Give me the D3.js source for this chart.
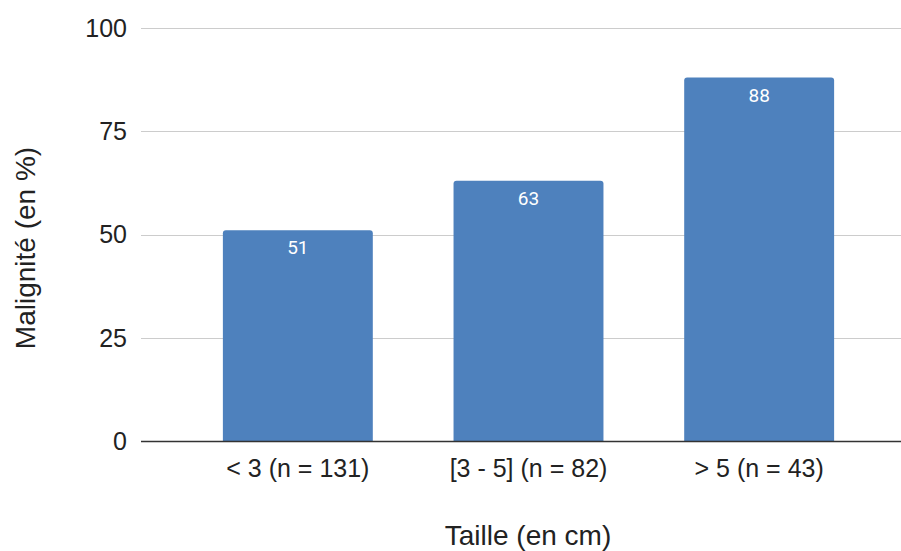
<!DOCTYPE html>
<html><head><meta charset="utf-8">
<script src="https://cdn.jsdelivr.net/npm/d3@7"></script>
<style>body{margin:0;background:#fff}svg{display:block}</style>
</head><body>
<svg id="c" width="901" height="551"></svg>
<script>
const categories = ["< 3 (n = 131)", "[3 - 5] (n = 82)", "> 5 (n = 43)"];
const values = [51, 63, 88];
const yTicks = [0, 25, 50, 75, 100];
const yTitle = "Malignité (en %)";
const xTitle = "Taille (en cm)";

(function () {
const svg = d3.select("#c");
const pL = 141, pR = 916, pT = 28, pB = 441;
const x = d3.scaleBand().domain(categories).range([pL, pR]).paddingInner(0.35).paddingOuter(0.355);
const y = d3.scaleLinear().domain([0, 100]).range([pB, pT]);
const font = "Liberation Sans, Arial, sans-serif";

// gridlines
svg.append("g").selectAll("line").data(yTicks.filter(d => d > 0)).join("line")
  .attr("x1", pL).attr("x2", 901)
  .attr("y1", d => Math.round(y(d)) + 0.5).attr("y2", d => Math.round(y(d)) + 0.5)
  .attr("stroke", "#cccccc").attr("stroke-width", 1);

// y tick labels
svg.append("g").selectAll("text").data(yTicks).join("text")
  .attr("x", 127).attr("y", d => y(d)).attr("dy", "0.35em")
  .attr("text-anchor", "end")
  .attr("font-family", font).attr("font-size", 25)
  .attr("fill", "#222").text(d => d);

// bars with rounded top corners
const r = 3;
svg.append("g").selectAll("path").data(values).join("path")
  .attr("d", (d, i) => {
    const x0 = x(categories[i]), w = x.bandwidth(), y0 = y(d), y1 = y(0);
    return `M${x0},${y1}V${y0 + r}Q${x0},${y0} ${x0 + r},${y0}H${x0 + w - r}Q${x0 + w},${y0} ${x0 + w},${y0 + r}V${y1}Z`;
  })
  .attr("fill", "#4e81bd");

// value labels
svg.append("g").selectAll("text").data(values).join("text")
  .attr("x", (d, i) => x(categories[i]) + x.bandwidth() / 2)
  .attr("y", d => y(d) + 24)
  .attr("text-anchor", "middle")
  .attr("font-family", "Roboto, sans-serif").attr("font-size", 19)
  .attr("fill", "#ffffff").text(d => d);

// baseline
svg.append("line").attr("x1", pL).attr("x2", 901)
  .attr("y1", Math.round(y(0)) + 0.5).attr("y2", Math.round(y(0)) + 0.5)
  .attr("stroke", "#333333").attr("stroke-width", 1.3);

// x tick labels
svg.append("g").selectAll("text").data(categories).join("text")
  .attr("x", d => x(d) + x.bandwidth() / 2).attr("y", 477)
  .attr("text-anchor", "middle")
  .attr("font-family", font).attr("font-size", 25)
  .attr("fill", "#222").text(d => d);

// axis titles
svg.append("text").attr("x", 528).attr("y", 545).attr("text-anchor", "middle")
  .attr("font-family", font).attr("font-size", 28)
  .attr("fill", "#222").text(xTitle);
svg.append("text").attr("transform", "translate(35,248) rotate(-90)").attr("text-anchor", "middle")
  .attr("font-family", font).attr("font-size", 28)
  .attr("fill", "#222").text(yTitle);
})();
</script>
</body></html>
